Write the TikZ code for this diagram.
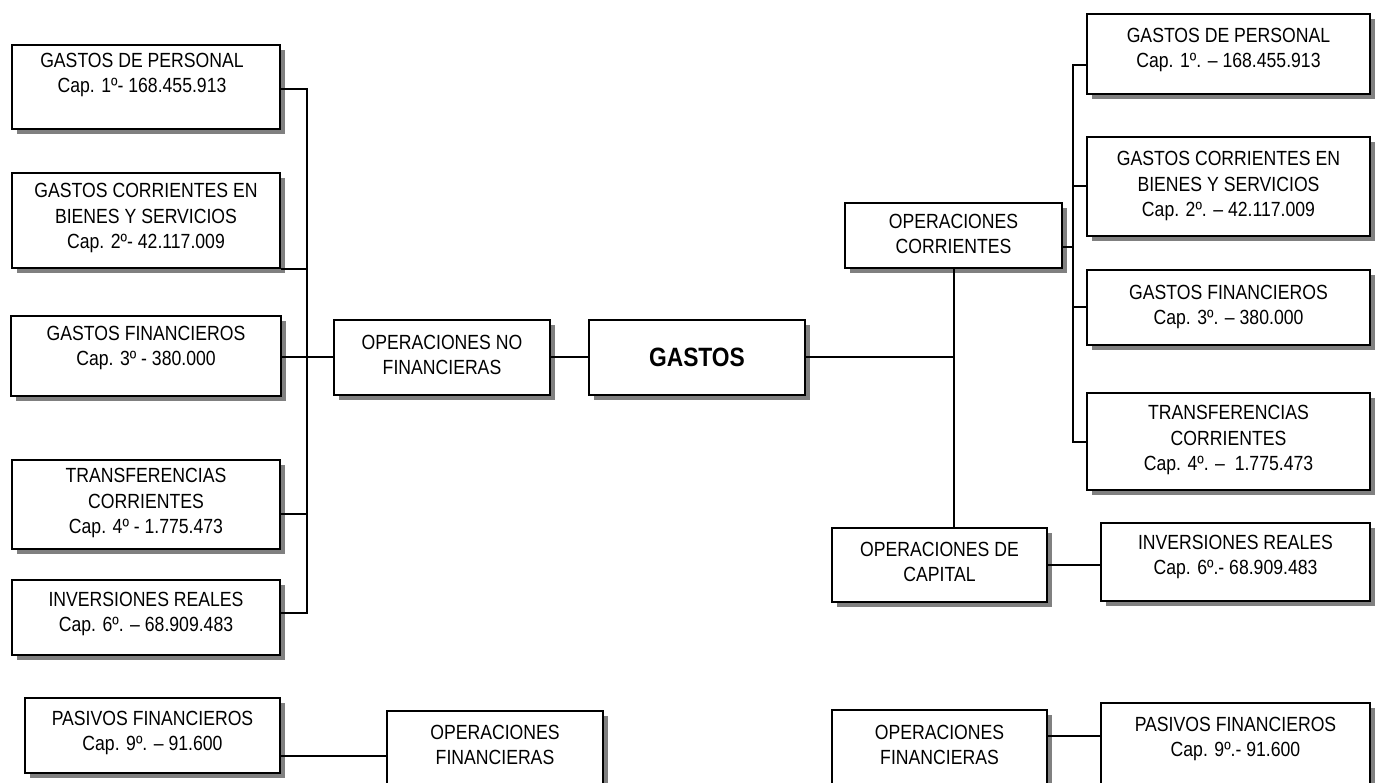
\documentclass[tikz,border=0pt]{standalone}
\usepackage{fontspec}
\setmainfont{Liberation Sans}[FakeStretch=0.86]
\usetikzlibrary{shadows}
\begin{document}
\begin{tikzpicture}[x=1pt,y=-1pt,
  box/.style={draw=black,line width=2pt,fill=white,inner sep=0pt,
    drop shadow={shadow xshift=5pt,shadow yshift=-5pt,fill=black!50,opacity=1}},
  txt/.style={align=center,inner sep=0pt,font=\fontsize{20.5}{25.5}\selectfont},
  big/.style={inner sep=0pt,font=\fontsize{26.5}{30}\selectfont\bfseries},
  conn/.style={line width=2pt,draw=black}]
\path[use as bounding box] (0,0) rectangle (1377,783);
\clip (0,0) rectangle (1377,783);
% left column
\node[box,minimum width=268pt,minimum height=84pt] (b1) at (146,87) {};
\node[txt] (b1t) at (142,75) {GASTOS DE PERSONAL\\Cap. 1º- 168.455.913};
\node[box,minimum width=268pt,minimum height=95pt] (b2) at (146,220.5) {};
\node[txt] (b2t) at (146,218) {GASTOS CORRIENTES EN\\BIENES Y SERVICIOS\\Cap. 2º- 42.117.009};
\node[box,minimum width=270pt,minimum height=80pt] (b3) at (146,356) {};
\node[txt] (b3t) at (146,348) {GASTOS FINANCIEROS\\Cap. 3º - 380.000};
\node[box,minimum width=268pt,minimum height=89pt] (b4) at (146,504.5) {};
\node[txt] (b4t) at (146,503) {TRANSFERENCIAS\\CORRIENTES\\Cap. 4º - 1.775.473};
\node[box,minimum width=268pt,minimum height=75pt] (b5) at (146,617.5) {};
\node[txt] (b5t) at (146,614) {INVERSIONES REALES\\Cap. 6º. – 68.909.483};
\node[box,minimum width=255pt,minimum height=75pt] (pf1) at (152.5,735.5) {};
\node[txt] (pf1t) at (152.5,733) {PASIVOS FINANCIEROS\\Cap. 9º. – 91.600};
\node[box,minimum width=216pt,minimum height=89pt] (of1) at (495,755.5) {};
\node[txt] (of1t) at (495,745) {OPERACIONES\\FINANCIERAS};
% centre
\node[box,minimum width=216pt,minimum height=75pt] (onf) at (442,357.5) {};
\node[txt] (onft) at (442,355) {OPERACIONES NO\\FINANCIERAS};
\node[box,minimum width=216pt,minimum height=75pt] (gastos) at (697,357.5) {};
\node[big] (gastost) at (697,357.5) {GASTOS};
% right side
\node[box,minimum width=217pt,minimum height=65pt] (oc) at (953.5,235.5) {};
\node[txt] (oct) at (953.5,234) {OPERACIONES\\CORRIENTES};
\node[box,minimum width=283pt,minimum height=80pt] (r1) at (1228.5,54) {};
\node[txt] (r1t) at (1228.5,50) {GASTOS DE PERSONAL\\Cap. 1º. – 168.455.913};
\node[box,minimum width=283pt,minimum height=99pt] (r2) at (1228.5,186.5) {};
\node[txt] (r2t) at (1228.5,186) {GASTOS CORRIENTES EN\\BIENES Y SERVICIOS\\Cap. 2º. – 42.117.009};
\node[box,minimum width=283pt,minimum height=75pt] (r3) at (1228.5,307.5) {};
\node[txt] (r3t) at (1228.5,307) {GASTOS FINANCIEROS\\Cap. 3º. – 380.000};
\node[box,minimum width=283pt,minimum height=97pt] (r4) at (1228.5,441.5) {};
\node[txt] (r4t) at (1228.5,440) {TRANSFERENCIAS\\CORRIENTES\\Cap. 4º. – \ 1.775.473};
\node[box,minimum width=215pt,minimum height=74pt] (ocap) at (939.5,565) {};
\node[txt] (ocapt) at (939.5,562) {OPERACIONES DE\\CAPITAL};
\node[box,minimum width=269pt,minimum height=78pt] (r5) at (1235.5,562) {};
\node[txt] (r5t) at (1235.5,557) {INVERSIONES REALES\\Cap. 6º.- 68.909.483};
\node[box,minimum width=215pt,minimum height=90pt] (of2) at (939.5,755) {};
\node[txt] (of2t) at (939.5,745) {OPERACIONES\\FINANCIERAS};
\node[box,minimum width=269pt,minimum height=97pt] (pf2) at (1235.5,751.5) {};
\node[txt] (pf2t) at (1235.5,739) {PASIVOS FINANCIEROS\\Cap. 9º.- 91.600};
% trunks
\coordinate (ltop) at (307,89);
\coordinate (lbot) at (307,613);
\coordinate (rtop) at (1073,65);
\coordinate (rbot) at (1073,442);
% left connectors
\draw[conn] (b1.east |- ltop) -- (ltop) -- (lbot) -- (b5.east |- lbot);
\draw[conn] (b2.south east) -- (b2.south east -| ltop);
\draw[conn] (b3.east |- onf.west) -- (onf.west);
\draw[conn] ([yshift=-10pt]b4.east) -- ([yshift=-10pt]b4.east -| ltop);
\draw[conn] (onf.east) -- (gastos.west);
\draw[conn] (pf1.east |- of1.west) -- (of1.west);
% right connectors
\draw[conn] (gastos.east) -- (gastos.east -| oc.south);
\draw[conn] (oc.south) -- (oc.south |- ocap.north);
\draw[conn] (r1.west |- rtop) -- (rtop) -- (rbot) -- (r4.west |- rbot);
\draw[conn] (r2.west) -- (r2.west -| rtop);
\draw[conn] (r3.west) -- (r3.west -| rtop);
\draw[conn] ([yshift=-12pt]oc.east) -- ([yshift=-12pt]oc.east -| rtop);
\draw[conn] (ocap.east) -- (ocap.east -| r5.west);
\draw[conn] (of2.east |- pf1.east) -- (of2.east |- pf1.east -| pf2.west);
\end{tikzpicture}
\end{document}
